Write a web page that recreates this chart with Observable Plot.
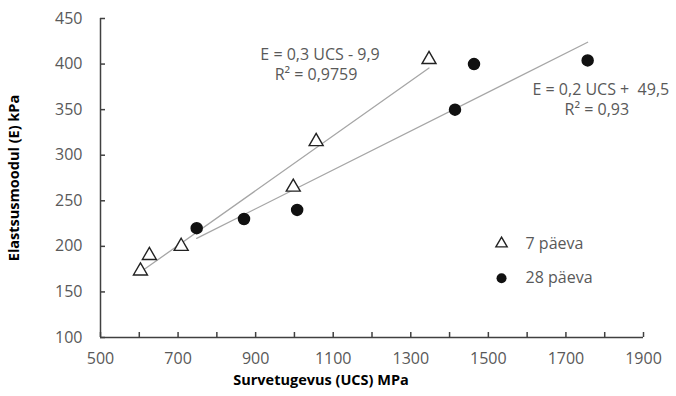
<!DOCTYPE html>
<html>
<head>
<meta charset="utf-8">
<script src="https://cdn.jsdelivr.net/npm/d3@7"></script>
<script src="https://cdn.jsdelivr.net/npm/@observablehq/plot@0.6"></script>
<style>
  html, body { margin: 0; padding: 0; background: #fff; }
  #chart { width: 676px; height: 396px; }
</style>
</head>
<body>
<div id="chart"></div>
<script>
// ---- data ----
const series = ["7 päeva", "28 päeva"];
const ucs7 = [603, 626, 708, 997, 1056, 1347];
const e7   = [173, 190, 200, 265, 315, 405];
const ucs28 = [748, 870, 1007, 1414, 1463, 1756];
const e28   = [220, 230, 240, 350, 400, 404];
const xTicks = [500, 700, 900, 1100, 1300, 1500, 1700, 1900];
const xAllTicks = [500, 600, 700, 800, 900, 1000, 1100, 1200, 1300, 1400, 1500, 1600, 1700, 1800, 1900];
const yTicks = [100, 150, 200, 250, 300, 350, 400, 450];
const eqLabels = ["E = 0,3 UCS - 9,9", "E = 0,2 UCS +  49,5"];
const r2Labels = ["R² = 0,9759", "R² = 0,93"];
const xTitle = "Survetugevus (UCS) MPa";
const yTitle = "Elastsusmoodul (E) kPa";

const d7 = ucs7.map((x, i) => ({x, y: e7[i], s: series[0]}));
const d28 = ucs28.map((x, i) => ({x, y: e28[i], s: series[1]}));

// annotation anchors in data units
const eqPos = [{x: 1066, y: 410}, {x: 1790, y: 372}];
const legendPos = [{x: 1534, y: 203}, {x: 1534, y: 165}];

const gray = "#595959";
const axisCol = "#404040";
const font = "'Open Sans', 'Noto Sans', sans-serif";

const chart = Plot.plot({
  width: 676,
  height: 396,
  marginLeft: 100,
  marginRight: 33,
  marginTop: 18,
  marginBottom: 59,
  style: {fontFamily: font, fontSize: "16px", color: gray, background: "#fff"},
  x: {type: "linear", domain: [500, 1900]},
  y: {type: "linear", domain: [100, 450]},
  marks: [
    // regression lines
    Plot.linearRegressionY(d7, {x: "x", y: "y", ci: 0, stroke: "#a6a6a6", strokeWidth: 1.3}),
    Plot.linearRegressionY(d28, {x: "x", y: "y", ci: 0, stroke: "#a6a6a6", strokeWidth: 1.3}),
    // axes with inward ticks
    Plot.axisX({ticks: xAllTicks, tickSize: -5, tickPadding: 20, stroke: axisCol, strokeWidth: 1.5,
      tickFormat: d => xTicks.includes(d) ? String(d) : "", fontSize: 16, color: gray, label: null}),
    Plot.axisY({ticks: yTicks, tickSize: -5, tickPadding: 23, stroke: axisCol, strokeWidth: 1.5,
      tickFormat: d => String(d), fontSize: 16, color: gray, label: null}),
    Plot.ruleX([500], {stroke: axisCol, strokeWidth: 1.5}),
    Plot.ruleY([100], {stroke: axisCol, strokeWidth: 1.5}),
    // points
    Plot.dot(d7, {x: "x", y: "y", symbol: "triangle", r: 5.2, stroke: "#222", strokeWidth: 1.4, fill: "white"}),
    Plot.dot(d28, {x: "x", y: "y", symbol: "circle", r: 5.5, fill: "#111", stroke: "#111"}),
    // equations
    Plot.text(eqLabels, {x: (d, i) => eqPos[i].x, y: (d, i) => eqPos[i].y, text: d => d, fill: gray, fontSize: 16}),
    Plot.text(r2Labels, {x: (d, i) => eqPos[i].x, y: (d, i) => eqPos[i].y, text: d => d, fill: gray, fontSize: 16, dy: 20, dx: -4}),
    // legend
    Plot.dot(legendPos.slice(0, 1), {x: "x", y: "y", symbol: "triangle", r: 4.2, stroke: "#222", strokeWidth: 1.4, fill: "white"}),
    Plot.dot(legendPos.slice(1), {x: "x", y: "y", symbol: "circle", r: 5, fill: "#111"}),
    Plot.text(series, {x: (d, i) => legendPos[i].x, y: (d, i) => legendPos[i].y, text: d => d, fill: gray, fontSize: 16, textAnchor: "start", dx: 24}),
    // axis titles
    Plot.text([xTitle], {frameAnchor: "bottom", text: d => d, dx: -51, dy: 47, fontWeight: "bold", fontSize: 14.5, fill: "#000"}),
    Plot.text([yTitle], {frameAnchor: "left", textAnchor: "middle", text: d => d, dx: -86, rotate: -90, fontWeight: "bold", fontSize: 14.5, fill: "#000"})
  ]
});

document.getElementById("chart").appendChild(chart);
</script>
</body>
</html>
